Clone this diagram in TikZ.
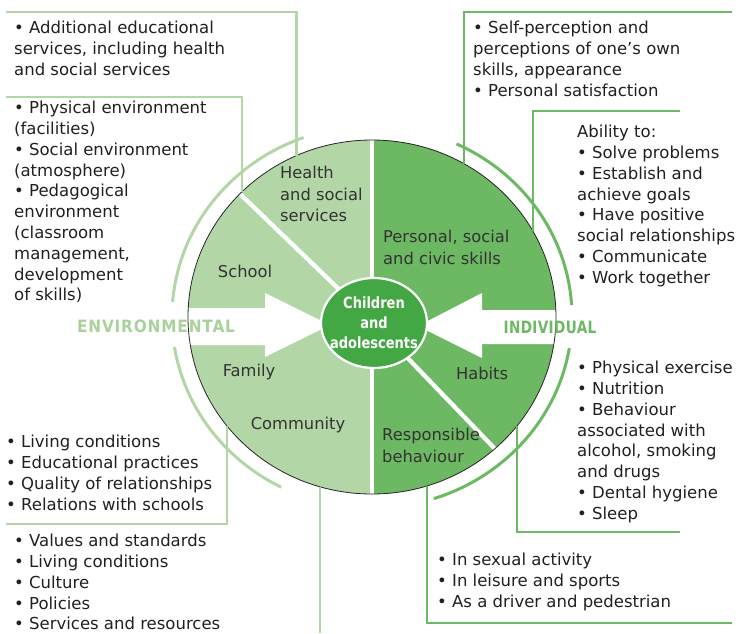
\documentclass[tikz,border=0pt]{standalone}
\usepackage{fontspec}
\setmainfont{DejaVu Sans}
\newfontfamily\narrowfont[FakeStretch=0.84,BoldFont={DejaVu Sans Bold}]{DejaVu Sans}
\newfontfamily\envfont[FakeStretch=0.9,LetterSpace=5]{DejaVu Sans Bold}
\newfontfamily\indfont[FakeStretch=0.8,LetterSpace=2]{DejaVu Sans Bold}
\usetikzlibrary{shapes.geometric}

\definecolor{envgreen}{HTML}{B3D6A7}
\definecolor{envtext}{HTML}{A9D19C}
\definecolor{indgreen}{HTML}{6DB862}
\definecolor{kidgreen}{HTML}{43A843}
\definecolor{inktext}{HTML}{231F20}
\definecolor{labeltext}{HTML}{333333}

\tikzset{
  envline/.style={envgreen, line width=2.5pt},
  indline/.style={indgreen, line width=2.5pt},
  ring/.style={line width=3pt},
  divider/.style={white, line width=4.3pt},
  listtext/.style={anchor=north west, inner sep=0pt, align=left, text=inktext, font=\fontsize{16.5}{20.8}\selectfont},
  sectortext/.style={inner sep=0pt, align=left, text=labeltext, font=\fontsize{16.3}{21.5}\selectfont},
}

\begin{document}
\begin{tikzpicture}[x=1pt, y=1pt]
            \useasboundingbox (0, 0) rectangle (742, -633);

            \node [ellipse, fill=envgreen, inner sep=0pt, outer sep=0pt, minimum width=368pt, minimum height=354pt] (whole) at (372, -317) {};
            \fill [indgreen] (whole.north) arc [start angle=90, end angle=-90, x radius=184pt, y radius=177pt] -- cycle;

            \coordinate (hub) at (374, -323);
            \draw [divider] (whole.north) to (whole.south);
            \draw [divider] (hub) to (whole.137);
            \draw [divider] (hub) to (whole.-47);

            \fill [white] (178, -308) -- (265, -308) -- (265, -293) -- (330, -325) -- (265, -357) -- (265, -345) -- (178, -345) -- cycle;
            \fill [white] (566, -310) -- (482, -310) -- (482, -293) -- (418, -326) -- (482, -358) -- (482, -344) -- (566, -344) -- cycle;

            \draw [black!85, line width=0.8pt] (whole.center) ellipse [x radius=184pt, y radius=177pt];

            \draw [ring, envgreen] (whole.center) ++(110:200pt and 191pt) arc [start angle=110, end angle=175.5, x radius=200pt, y radius=191pt];
            \draw [ring, envgreen] (whole.center) ++(189:200pt and 191pt) arc [start angle=189, end angle=243, x radius=200pt, y radius=191pt];
            \draw [ring, indgreen] (whole.center) ++(65:200pt and 191pt) arc [start angle=65, end angle=3.6, x radius=200pt, y radius=191pt];
            \draw [ring, indgreen] (whole.center) ++(-9.4:200pt and 191pt) arc [start angle=-9.4, end angle=-72, x radius=200pt, y radius=191pt];

            \coordinate (c-health) at (6, -12);
            \coordinate (c-school) at (6, -97);
            \coordinate (c-family) at (6, -524);
            \coordinate (c-bottom) at (0, -633);
            \coordinate (c-self) at (732, -12);
            \coordinate (c-ability) at (680, -111);
            \coordinate (c-habits) at (680, -532);
            \coordinate (c-resp) at (732, -623);

            \draw [envline] (whole.115) |- (c-health);
            \draw [envline] (whole.136) |- (c-school);
            \draw [envline] (whole.217) |- (c-family);
            \draw [envline] (whole.253) -- (whole.253 |- c-bottom);
            \draw [indline] (whole.59) |- (c-self);
            \draw [indline] (whole.28) |- (c-ability);
            \draw [indline] (whole.-37) |- (c-habits);
            \draw [indline] (whole.-72) |- (c-resp);

            \node [ellipse, fill=kidgreen, draw=white, line width=2.2pt, inner sep=0pt, minimum width=106pt, minimum height=90pt] (kids) at (374, -323) {};
            \node [align=center, inner sep=0pt, text=white, font=\narrowfont\bfseries\fontsize{15.5}{20}\selectfont] (kidslabel) at (kids.center) {Children\\and\\adolescents};

            \node [text=envtext, font=\envfont\fontsize{17}{20}\selectfont] (envlabel) at (156, -326) {ENVIRONMENTAL};
            \node [text=indgreen, font=\indfont\fontsize{17}{20}\selectfont] (indlabel) at (550, -327) {INDIVIDUAL};

            \node [sectortext, anchor=north west] (health) at (280, -166) {Health\\and social\\services};
            \node [sectortext] (school) at (245, -271) {School};
            \node [sectortext] (family) at (249, -372) {Family};
            \node [sectortext] (community) at (298, -425) {Community};
            \node [sectortext, anchor=north west] (personal) at (383, -230) {Personal, social\\and civic skills};
            \node [sectortext] (habits) at (482, -373) {Habits};
            \node [sectortext, anchor=north west] (responsible) at (382, -428) {Responsible\\behaviour};

            \node [listtext] (services) at (14, -21) {• Additional educational\\services, including health\\and social services};
            \node [listtext] (schoollist) at (14, -101) {• Physical environment\\(facilities)\\• Social environment\\(atmosphere)\\• Pedagogical\\environment\\(classroom\\management,\\development\\of skills)};
            \node [listtext] (selfimage) at (473, -21) {• Self-perception and\\perceptions of one's own\\skills, appearance\\• Personal satisfaction};
            \node [listtext] (abilities) at (577, -125) {Ability to:\\• Solve problems\\• Establish and\\achieve goals\\• Have positive\\social relationships\\• Communicate\\• Work together};
            \node [listtext] (lifestyle) at (577, -361) {• Physical exercise\\• Nutrition\\• Behaviour\\associated with\\alcohol, smoking\\and drugs\\• Dental hygiene\\• Sleep};
            \node [listtext] (conduct) at (437, -553) {• In sexual activity\\• In leisure and sports\\• As a driver and pedestrian};
            \node [listtext] (homelife) at (6, -435) {• Living conditions\\• Educational practices\\• Quality of relationships\\• Relations with schools};
            \node [listtext] (society) at (14, -534) {• Values and standards\\• Living conditions\\• Culture\\• Policies\\• Services and resources};
        \end{tikzpicture}
\end{document}
